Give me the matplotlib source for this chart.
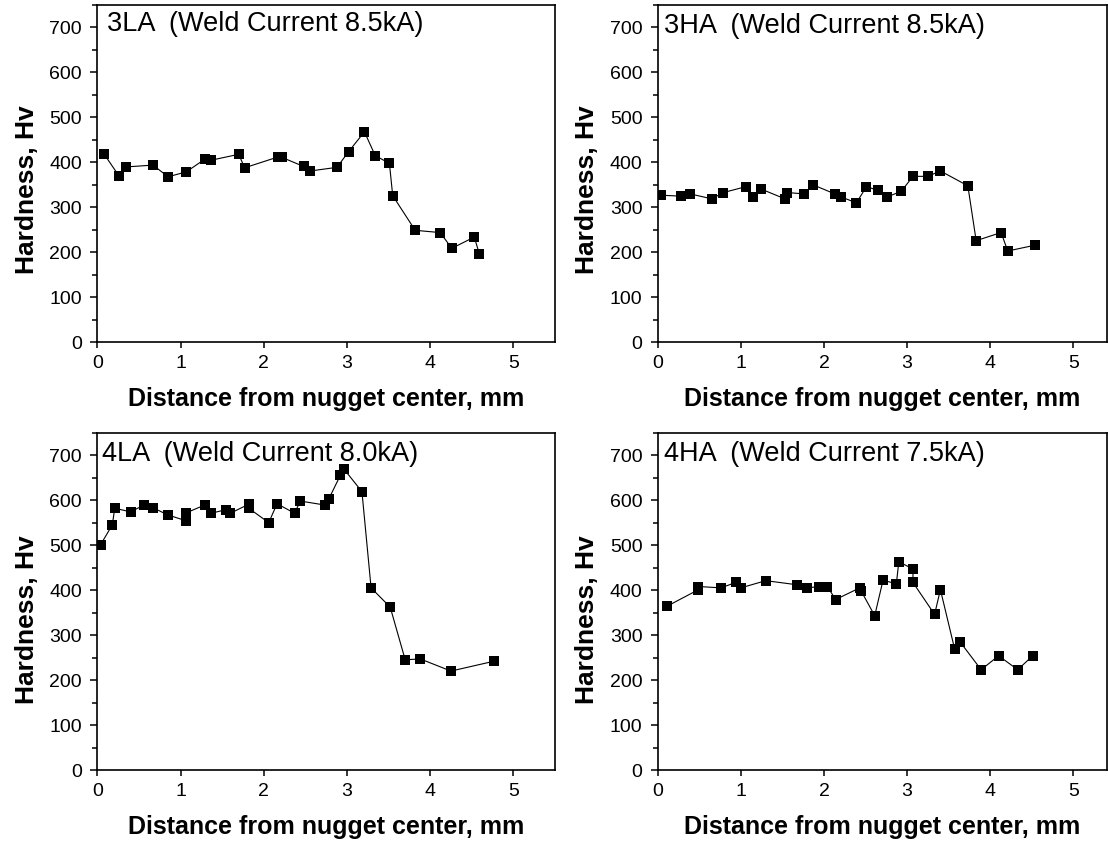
import numpy as np
import matplotlib
matplotlib.use("Agg")
import matplotlib.pyplot as plt
from matplotlib.ticker import MultipleLocator

plt.rcParams['font.family'] = ['Liberation Sans', 'DejaVu Sans']

# %% data (distance in mm, hardness in Hv)
x_3la = [0.08, 0.26, 0.35, 0.67, 0.85, 1.07, 1.29, 1.37, 1.70, 1.77, 2.17, 2.22, 2.48,
         2.56, 2.88, 3.02, 3.21, 3.34, 3.51, 3.55, 3.82, 4.12, 4.26, 4.53, 4.59]
hv_3la = [419, 370, 390, 394, 368, 379, 407, 405, 418, 388, 412, 411, 391,
          381, 389, 424, 468, 415, 398, 326, 249, 244, 209, 234, 197]

x_3ha = [0.04, 0.28, 0.39, 0.65, 0.79, 1.06, 1.15, 1.24, 1.53, 1.56, 1.76, 1.87, 2.13, 2.21,
         2.39, 2.51, 2.65, 2.76, 2.93, 3.07, 3.25, 3.40, 3.73, 3.83, 4.13, 4.21, 4.54]
hv_3ha = [327, 325, 330, 319, 333, 346, 323, 341, 319, 333, 330, 350, 330, 323,
          310, 346, 338, 323, 336, 369, 369, 381, 348, 226, 244, 203, 216]

x_4la = [0.04, 0.18, 0.21, 0.40, 0.56, 0.67, 0.85, 1.07, 1.07, 1.29, 1.37, 1.55, 1.60, 1.82,
         1.82, 2.06, 2.16, 2.37, 2.44, 2.74, 2.78, 2.92, 2.96, 3.18, 3.29, 3.52, 3.70, 3.88,
         4.25, 4.77]
hv_4la = [501, 545, 582, 574, 589, 583, 567, 554, 572, 589, 571, 579, 571, 591,
          582, 550, 592, 571, 598, 589, 602, 655, 670, 619, 405, 362, 245, 247,
          220, 242]

x_4ha = [0.11, 0.48, 0.49, 0.76, 0.94, 1.00, 1.30, 1.67, 1.80, 1.94, 2.04, 2.14, 2.43, 2.45,
         2.61, 2.71, 2.87, 2.90, 3.07, 3.07, 3.33, 3.40, 3.57, 3.64, 3.89, 4.10, 4.33, 4.51]
hv_4ha = [364, 400, 408, 405, 417, 405, 421, 412, 405, 408, 408, 379, 405, 397,
          343, 422, 414, 463, 447, 417, 346, 401, 270, 284, 223, 254, 223, 254]

titles = ["3LA  (Weld Current 8.5kA)", "3HA  (Weld Current 8.5kA)",
          "4LA  (Weld Current 8.0kA)", "4HA  (Weld Current 7.5kA)"]

# %% layout
fig = plt.figure(figsize=(11.08, 8.47), dpi=100)
W, H = 1108, 847

def px_axes(left, top, right, bottom):
    return fig.add_axes([left / W, 1 - bottom / H, (right - left) / W, (bottom - top) / H])

panels = [
    (px_axes(97.3, 5, 555, 342.3), x_3la, hv_3la, titles[0], 5.5, -0.127, 0.451, (0.022, 0.923)),
    (px_axes(657.7, 5, 1106.7, 342.3), x_3ha, hv_3ha, titles[1], 5.4, -0.131, 0.451, (0.015, 0.917)),
    (px_axes(97.3, 432.7, 555, 770), x_4la, hv_4la, titles[2], 5.5, -0.127, 0.445, (0.010, 0.917)),
    (px_axes(657.7, 432.7, 1106.7, 770), x_4ha, hv_4ha, titles[3], 5.4, -0.131, 0.445, (0.015, 0.917)),
]

for ax, x, hv, title, xmax, ylx, yly, tpos in panels:
    ax.plot(x, hv, color='black', lw=0.8, marker='s', markersize=7.8,
            markerfacecolor='black', markeredgecolor='black', markeredgewidth=0)
    ax.set_xlim(0, xmax)
    ax.set_ylim(0, 750)
    ax.xaxis.set_major_locator(MultipleLocator(1))
    ax.yaxis.set_minor_locator(MultipleLocator(50))
    ax.set_yticks(np.arange(0, 701, 100))
    ax.tick_params(axis='x', direction='out', length=4, width=1.1, pad=5, labelsize=14)
    ax.tick_params(axis='y', which='major', direction='out', length=5, width=1.1, pad=6, labelsize=14)
    ax.tick_params(axis='y', which='minor', direction='out', length=3.5, width=1.1)
    for sp in ax.spines.values():
        sp.set_linewidth(1.2)
    ax.set_xlabel("Distance from nugget center, mm", fontsize=18, fontweight='bold')
    ax.set_ylabel("Hardness, Hv", fontsize=19, fontweight='bold')
    ax.xaxis.set_label_coords(0.5, -0.134)
    ax.yaxis.set_label_coords(ylx, yly)
    ax.text(tpos[0], tpos[1], title, transform=ax.transAxes, fontsize=19.5,
            ha='left', va='baseline')

plt.savefig("out.png", dpi=100)
